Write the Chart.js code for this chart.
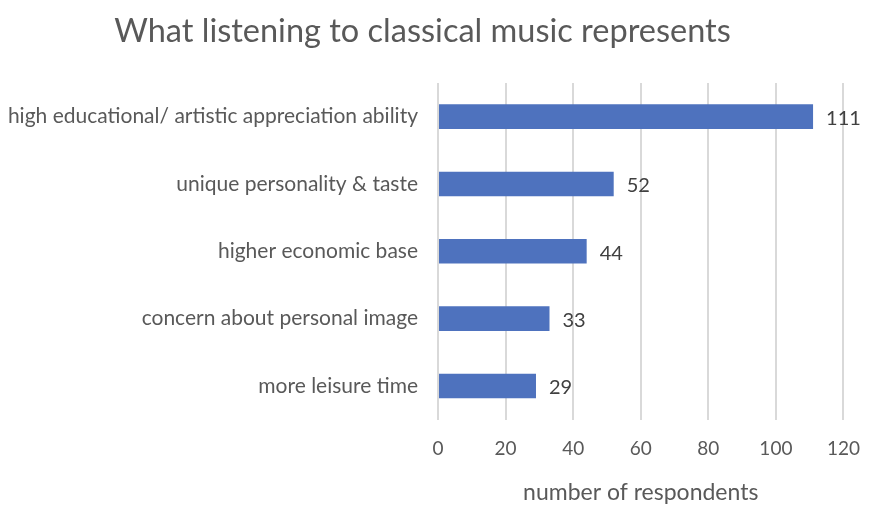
<!DOCTYPE html>
<html>
<head>
<meta charset="utf-8">
<script src="https://cdn.jsdelivr.net/npm/chart.js@4.4.0/dist/chart.umd.min.js"></script>
<style>
  html, body { margin: 0; padding: 0; background: #fff; }
  #wrap { width: 878px; height: 514px; position: relative; }
</style>
</head>
<body>
<div id="wrap"><canvas id="classicalChart"></canvas></div>
<script>
// Chart data
const categories = [
    'high educational/ artistic appreciation ability',
    'unique personality & taste',
    'higher economic base',
    'concern about personal image',
    'more leisure time'
];
const respondents = [111, 52, 44, 33, 29];
const xTicks = [0, 20, 40, 60, 80, 100, 120];

const FONT = 'Lato, "Open Sans", sans-serif';
const TEXT_COLOR = '#595959';

// draws value labels just past the end of each bar
const valueLabels = {
    id: 'valueLabels',
    afterDatasetsDraw(chart) {
        const ctx = chart.ctx;
        const meta = chart.getDatasetMeta(0);
        ctx.save();
        ctx.font = '20px ' + FONT;
        ctx.fillStyle = '#404040';
        ctx.textBaseline = 'middle';
        ctx.textAlign = 'left';
        meta.data.forEach((bar, i) => {
            ctx.fillText(respondents[i], bar.x + 13, bar.y + 2);
        });
        ctx.restore();
    }
};

new Chart(document.getElementById('classicalChart'), {
    type: 'bar',
    data: {
        labels: categories,
        datasets: [{
            data: respondents,
            backgroundColor: '#4e72be',
            barPercentage: 0.73,
            categoryPercentage: 0.5
        }]
    },
    options: {
        indexAxis: 'y',
        responsive: true,
        maintainAspectRatio: false,
        animation: false,
        layout: { padding: { left: 0, right: 33, top: 0, bottom: 8 } },
        plugins: {
            legend: { display: false },
            tooltip: { enabled: false },
            title: {
                display: true,
                text: 'What listening to classical music represents',
                color: TEXT_COLOR,
                font: { family: FONT, size: 32.5, weight: 'normal' },
                padding: { top: 12, bottom: 32 }
            }
        },
        scales: {
            x: {
                min: 0,
                max: 120,
                afterBuildTicks: axis => { axis.ticks = xTicks.map(v => ({ value: v })); },
                grid: { color: '#d9d9d9', lineWidth: 2, drawTicks: false },
                border: { display: false },
                ticks: { color: TEXT_COLOR, font: { family: FONT, size: 19 }, padding: 18 },
                title: {
                    display: true,
                    text: 'number of respondents',
                    color: TEXT_COLOR,
                    font: { family: FONT, size: 23 },
                    padding: { top: 0, bottom: 0 }
                }
            },
            y: {
                grid: { display: false, drawTicks: false },
                border: { display: false },
                ticks: { color: TEXT_COLOR, font: { family: FONT, size: 21 }, padding: 20 },
                afterFit: axis => { axis.width = 438; }
            }
        }
    },
    plugins: [valueLabels]
});
</script>
</body>
</html>
